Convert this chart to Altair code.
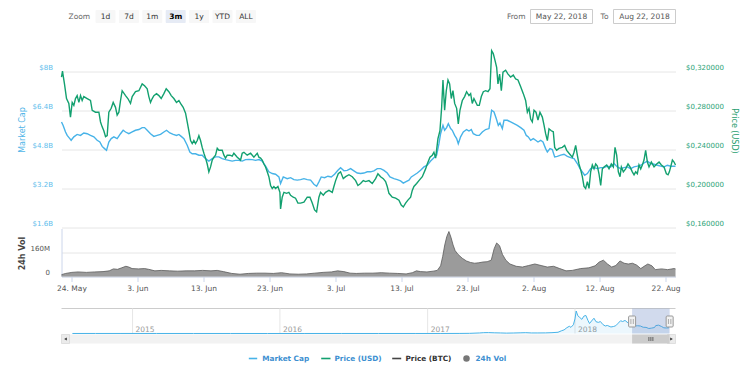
import altair as alt
import pandas as pd

# ------------------------------------------------------------------ data
DATA_START = "2018-05-22T12:00:00Z"   # visible range start (day offset 0)
VIEW_END = "2018-08-23T12:00:00Z"
NAV_START = "2014-07-09T00:00:00Z"
NAV_END = "2018-09-07T00:00:00Z"

# (day offset from DATA_START, price in USD)
PRICE_USD = [
    (0.00, 0.314), (0.15, 0.320), (0.45, 0.307), (0.76, 0.292), (1.11, 0.287), (1.36, 0.273),
    (1.62, 0.288), (1.87, 0.285), (2.12, 0.292), (2.37, 0.295), (2.63, 0.288), (2.88, 0.295),
    (3.13, 0.290), (3.38, 0.294), (3.89, 0.292), (4.39, 0.290), (4.65, 0.280), (5.15, 0.278),
    (5.66, 0.278), (5.91, 0.268), (6.16, 0.263), (6.41, 0.259), (6.67, 0.253), (6.92, 0.254),
    (7.17, 0.278), (7.53, 0.282), (7.83, 0.288), (8.18, 0.283), (8.43, 0.275), (8.69, 0.278),
    (8.94, 0.290), (9.19, 0.300), (9.70, 0.295), (10.05, 0.292), (10.45, 0.287), (10.71, 0.294),
    (11.21, 0.299), (11.72, 0.300), (12.22, 0.307), (12.58, 0.305), (12.98, 0.302), (13.23, 0.294),
    (13.48, 0.288), (13.74, 0.292), (13.99, 0.295), (14.39, 0.297), (14.75, 0.295), (15.10, 0.292),
    (15.51, 0.297), (15.86, 0.302), (16.26, 0.299), (16.62, 0.295), (17.02, 0.292), (17.42, 0.288),
    (17.78, 0.290), (18.03, 0.287), (18.43, 0.283), (18.79, 0.277), (19.04, 0.268), (19.29, 0.259),
    (19.55, 0.249), (19.80, 0.246), (20.05, 0.249), (20.30, 0.246), (20.56, 0.249), (20.81, 0.254),
    (21.06, 0.249), (21.31, 0.242), (21.57, 0.236), (21.82, 0.231), (22.07, 0.225), (22.32, 0.217),
    (22.58, 0.222), (22.83, 0.229), (23.08, 0.232), (23.33, 0.234), (23.59, 0.241), (23.84, 0.239),
    (24.34, 0.239), (24.60, 0.234), (24.85, 0.231), (25.10, 0.234), (25.51, 0.234), (25.86, 0.233),
    (26.11, 0.236), (26.62, 0.232), (27.12, 0.229), (27.37, 0.236), (27.63, 0.237), (28.13, 0.234),
    (28.64, 0.236), (29.14, 0.232), (29.65, 0.236), (29.90, 0.232), (30.15, 0.231), (30.40, 0.229),
    (30.66, 0.225), (30.91, 0.222), (31.16, 0.217), (31.41, 0.212), (31.67, 0.203), (31.92, 0.200),
    (32.17, 0.202), (32.42, 0.200), (32.78, 0.202), (33.08, 0.196), (33.18, 0.179), (33.43, 0.191),
    (33.69, 0.196), (34.09, 0.195), (34.44, 0.196), (34.70, 0.193), (35.10, 0.191), (35.45, 0.190),
    (35.81, 0.185), (36.21, 0.185), (36.72, 0.186), (37.22, 0.191), (37.63, 0.191), (37.98, 0.185),
    (38.33, 0.178), (38.64, 0.176), (38.99, 0.191), (39.24, 0.196), (39.65, 0.193), (40.00, 0.196),
    (40.51, 0.198), (41.01, 0.196), (41.26, 0.202), (41.52, 0.208), (41.92, 0.215), (42.27, 0.217),
    (42.68, 0.210), (43.03, 0.212), (43.54, 0.214), (44.04, 0.212), (44.55, 0.208), (44.90, 0.203),
    (45.30, 0.205), (45.71, 0.208), (46.06, 0.207), (46.57, 0.208), (47.07, 0.205), (47.58, 0.210),
    (47.93, 0.215), (48.33, 0.212), (48.74, 0.210), (49.09, 0.207), (49.34, 0.202), (49.60, 0.195),
    (50.10, 0.191), (50.61, 0.190), (51.11, 0.188), (51.46, 0.183), (51.77, 0.181), (52.12, 0.185),
    (52.47, 0.188), (52.88, 0.191), (53.13, 0.198), (53.38, 0.202), (53.79, 0.205), (54.14, 0.208),
    (54.65, 0.212), (55.15, 0.220), (55.40, 0.225), (55.81, 0.232), (56.16, 0.234), (56.41, 0.237),
    (56.67, 0.231), (57.02, 0.251), (57.32, 0.259), (57.58, 0.283), (57.78, 0.311), (58.03, 0.280),
    (58.28, 0.300), (58.54, 0.311), (58.79, 0.307), (59.04, 0.292), (59.29, 0.300), (59.55, 0.287),
    (59.85, 0.282), (60.10, 0.266), (60.35, 0.280), (60.71, 0.290), (61.06, 0.294), (61.36, 0.299),
    (61.72, 0.295), (61.97, 0.297), (62.22, 0.287), (62.47, 0.292), (62.98, 0.285), (63.28, 0.285),
    (63.59, 0.294), (63.89, 0.299), (64.24, 0.300), (64.60, 0.299), (64.90, 0.302), (65.15, 0.341),
    (65.40, 0.338), (65.66, 0.331), (65.91, 0.324), (66.11, 0.307), (66.36, 0.317), (66.62, 0.300),
    (66.87, 0.319), (67.27, 0.321), (67.63, 0.317), (68.03, 0.314), (68.43, 0.316), (68.79, 0.312),
    (69.14, 0.311), (69.55, 0.304), (69.95, 0.297), (70.30, 0.290), (70.56, 0.278), (70.81, 0.282),
    (71.06, 0.271), (71.31, 0.268), (71.57, 0.280), (71.87, 0.278), (72.17, 0.270), (72.47, 0.278),
    (72.83, 0.273), (73.08, 0.265), (73.33, 0.256), (73.59, 0.249), (73.84, 0.261), (74.19, 0.259),
    (74.49, 0.258), (74.70, 0.242), (75.00, 0.239), (75.35, 0.241), (75.86, 0.242), (76.21, 0.244),
    (76.52, 0.239), (76.87, 0.236), (77.37, 0.232), (77.63, 0.237), (77.88, 0.244), (78.13, 0.234),
    (78.38, 0.225), (78.64, 0.219), (78.89, 0.212), (79.14, 0.202), (79.39, 0.200), (79.65, 0.207),
    (79.90, 0.200), (80.15, 0.217), (80.40, 0.224), (80.66, 0.220), (80.91, 0.225), (81.16, 0.223),
    (81.41, 0.215), (81.67, 0.203), (81.92, 0.220), (82.17, 0.222), (82.58, 0.224), (82.93, 0.220),
    (83.28, 0.225), (83.59, 0.222), (83.84, 0.242), (84.09, 0.234), (84.34, 0.217), (84.60, 0.212),
    (84.80, 0.222), (85.10, 0.217), (85.45, 0.220), (85.81, 0.225), (86.11, 0.222), (86.46, 0.217),
    (86.72, 0.214), (86.97, 0.217), (87.22, 0.215), (87.47, 0.224), (87.73, 0.220), (87.98, 0.224),
    (88.23, 0.229), (88.48, 0.239), (88.74, 0.227), (88.99, 0.222), (89.34, 0.227), (89.75, 0.222),
    (90.15, 0.225), (90.51, 0.227), (90.86, 0.224), (91.26, 0.222), (91.62, 0.215), (91.87, 0.214),
    (92.07, 0.217), (92.27, 0.222), (92.53, 0.229), (92.78, 0.227), (93.00, 0.224),
]

# (day offset, market cap in billions USD)
MARKET_CAP_BN = [
    (0.00, 5.92), (0.25, 5.78), (0.61, 5.51), (0.86, 5.37), (1.26, 5.24), (1.46, 5.17), (1.87, 5.31),
    (2.37, 5.41), (2.88, 5.37), (3.38, 5.47), (3.89, 5.44), (4.39, 5.37), (4.90, 5.31), (5.40, 5.17),
    (5.81, 5.10), (6.16, 4.92), (6.52, 4.83), (6.82, 4.76), (7.17, 5.10), (7.53, 5.24), (7.93, 5.31),
    (8.43, 5.24), (8.94, 5.44), (9.34, 5.58), (9.70, 5.51), (10.20, 5.44), (10.71, 5.51), (11.21, 5.58),
    (11.72, 5.61), (12.22, 5.69), (12.58, 5.69), (12.98, 5.58), (13.48, 5.44), (13.99, 5.33),
    (14.49, 5.37), (15.00, 5.41), (15.51, 5.51), (15.91, 5.58), (16.41, 5.47), (16.92, 5.41),
    (17.42, 5.37), (17.78, 5.41), (18.13, 5.33), (18.54, 5.24), (19.04, 4.97), (19.44, 4.69),
    (19.80, 4.62), (20.30, 4.62), (20.81, 4.56), (21.31, 4.56), (21.82, 4.42), (22.32, 4.32),
    (22.83, 4.42), (23.33, 4.49), (23.84, 4.49), (24.34, 4.42), (24.85, 4.38), (25.35, 4.35),
    (25.86, 4.32), (26.36, 4.35), (26.87, 4.35), (27.37, 4.32), (27.88, 4.38), (28.38, 4.39),
    (28.89, 4.38), (29.39, 4.35), (29.90, 4.38), (30.40, 4.32), (30.91, 4.11), (31.41, 3.88),
    (31.92, 3.81), (32.42, 3.78), (32.93, 3.67), (33.18, 3.40), (33.59, 3.67), (34.19, 3.60),
    (34.70, 3.64), (35.20, 3.56), (35.71, 3.54), (36.21, 3.56), (36.72, 3.60), (37.22, 3.56),
    (37.73, 3.54), (38.23, 3.37), (38.64, 3.29), (38.99, 3.47), (39.34, 3.67), (39.85, 3.64),
    (40.35, 3.70), (40.86, 3.67), (41.36, 3.78), (41.87, 3.94), (42.27, 4.05), (42.78, 3.92),
    (43.28, 3.94), (43.79, 4.01), (44.29, 3.92), (44.80, 3.83), (45.30, 3.81), (45.81, 3.83),
    (46.31, 3.88), (46.82, 3.88), (47.32, 3.92), (47.83, 4.01), (48.33, 4.01), (48.84, 3.94),
    (49.34, 3.83), (49.75, 3.67), (50.35, 3.60), (50.86, 3.56), (51.36, 3.51), (51.77, 3.42),
    (52.12, 3.47), (52.63, 3.54), (52.98, 3.67), (53.38, 3.74), (53.89, 3.83), (54.39, 3.94),
    (54.90, 4.08), (55.40, 4.15), (55.91, 4.32), (56.41, 4.46), (56.82, 4.56), (57.17, 5.03),
    (57.42, 5.44), (57.78, 5.78), (58.03, 5.58), (58.33, 5.69), (58.59, 5.85), (58.94, 5.65),
    (59.19, 5.58), (59.55, 5.37), (59.85, 5.24), (60.10, 5.03), (60.45, 5.31), (60.86, 5.51),
    (61.36, 5.61), (61.72, 5.55), (62.07, 5.61), (62.37, 5.44), (62.88, 5.37), (63.28, 5.37),
    (63.74, 5.51), (64.24, 5.61), (64.75, 5.65), (65.15, 6.40), (65.51, 6.33), (65.86, 6.05),
    (66.16, 5.78), (66.41, 5.88), (66.77, 5.65), (67.02, 5.99), (67.53, 5.99), (68.03, 5.92),
    (68.54, 5.85), (69.04, 5.78), (69.55, 5.69), (70.05, 5.58), (70.40, 5.37), (70.71, 5.31),
    (71.06, 5.17), (71.46, 5.24), (71.82, 5.17), (72.17, 5.10), (72.58, 5.17), (72.93, 5.10),
    (73.33, 4.83), (73.59, 4.69), (73.99, 4.83), (74.34, 4.79), (74.70, 4.49), (75.10, 4.51),
    (75.61, 4.56), (76.11, 4.60), (76.62, 4.51), (77.12, 4.46), (77.63, 4.42), (78.13, 4.22),
    (78.54, 4.01), (78.89, 3.88), (79.24, 3.74), (79.65, 3.81), (80.15, 4.01), (80.66, 4.05),
    (81.16, 4.01), (81.67, 4.05), (82.17, 4.05), (82.68, 4.11), (83.18, 4.08), (83.69, 4.22),
    (84.19, 4.08), (84.70, 4.01), (85.20, 4.05), (85.71, 4.08), (86.21, 4.01), (86.72, 4.08),
    (87.22, 4.11), (87.73, 4.15), (88.23, 4.24), (88.74, 4.32), (89.24, 4.22), (89.75, 4.19),
    (90.25, 4.15), (90.76, 4.11), (91.26, 4.08), (91.77, 4.15), (92.27, 4.11), (93.00, 4.11),
]

# (day offset, 24h volume in millions USD)
VOLUME_M = [
    (0.00, 12), (0.63, 20), (1.57, 27), (2.52, 30), (3.77, 27), (5.03, 30), (6.29, 32), (7.23, 37),
    (7.86, 50), (8.49, 47), (9.12, 57), (9.75, 67), (10.19, 62), (10.69, 52), (11.64, 50),
    (12.58, 52), (13.21, 47), (14.15, 37), (15.09, 40), (16.35, 37), (17.61, 35), (18.87, 37),
    (20.13, 37), (21.38, 40), (22.64, 37), (23.58, 40), (24.53, 32), (25.79, 20), (27.04, 15),
    (28.30, 20), (29.56, 22), (30.82, 22), (32.08, 20), (33.33, 25), (34.59, 17), (35.85, 15),
    (37.11, 17), (38.36, 22), (39.62, 27), (40.88, 30), (41.82, 37), (42.77, 32), (43.71, 22),
    (44.65, 20), (45.91, 22), (47.17, 22), (48.43, 25), (49.69, 22), (50.94, 20), (52.20, 17),
    (53.14, 25), (53.77, 37), (54.40, 32), (55.35, 30), (56.29, 35), (56.92, 40), (57.42, 70),
    (57.74, 132), (58.05, 207), (58.36, 262), (58.68, 295), (58.99, 257), (59.31, 207), (59.62, 170),
    (60.06, 145), (60.69, 120), (61.32, 102), (61.95, 92), (62.58, 87), (63.21, 90), (63.84, 95),
    (64.47, 97), (65.09, 107), (65.53, 182), (65.91, 220), (66.35, 202), (66.79, 145), (67.30, 107),
    (67.92, 82), (68.87, 67), (69.81, 62), (70.75, 72), (71.70, 82), (72.64, 72), (73.58, 62),
    (74.53, 67), (75.47, 52), (76.42, 37), (77.36, 40), (78.62, 52), (79.87, 57), (80.82, 70),
    (81.45, 95), (82.08, 107), (82.70, 82), (83.33, 62), (83.96, 72), (84.59, 102), (85.22, 87),
    (85.85, 82), (86.48, 87), (87.11, 75), (87.74, 52), (88.36, 70), (88.81, 82), (89.43, 70),
    (89.94, 45), (90.88, 50), (91.82, 45), (92.77, 52), (93.00, 50),
]

# navigator: full market-cap history (date, billions USD)
NAV_MARKET_CAP_BN = [
    ("2014-08-05", 0.02), ("2014-10-01", 0.025), ("2014-12-01", 0.03), ("2015-03-01", 0.02),
    ("2015-06-01", 0.015), ("2015-09-01", 0.012), ("2015-12-01", 0.01), ("2016-03-01", 0.01),
    ("2016-06-01", 0.012), ("2016-09-01", 0.01), ("2016-12-01", 0.012), ("2017-02-01", 0.015),
    ("2017-03-20", 0.05), ("2017-04-15", 0.12), ("2017-05-10", 0.4), ("2017-05-20", 0.6),
    ("2017-06-01", 0.65), ("2017-06-15", 0.5), ("2017-07-01", 0.4), ("2017-07-15", 0.28),
    ("2017-08-01", 0.35), ("2017-08-20", 0.5), ("2017-09-01", 0.6), ("2017-09-15", 0.4),
    ("2017-10-01", 0.4), ("2017-10-20", 0.45), ("2017-11-05", 0.6), ("2017-11-20", 0.9),
    ("2017-11-28", 1.9), ("2017-12-05", 2.6), ("2017-12-12", 4.2), ("2017-12-18", 5.2),
    ("2017-12-22", 4.4), ("2017-12-28", 6.3), ("2018-01-01", 10.5), ("2018-01-04", 16.2),
    ("2018-01-08", 12.8), ("2018-01-13", 11.5), ("2018-01-18", 10.2), ("2018-01-23", 12.5),
    ("2018-01-28", 13.0), ("2018-02-02", 9.5), ("2018-02-06", 7.2), ("2018-02-11", 9.0),
    ("2018-02-17", 11.0), ("2018-02-22", 8.5), ("2018-02-28", 8.0), ("2018-03-05", 8.6),
    ("2018-03-11", 6.5), ("2018-03-17", 5.4), ("2018-03-22", 5.8), ("2018-03-31", 4.7),
    ("2018-04-06", 5.0), ("2018-04-12", 5.6), ("2018-04-18", 7.4), ("2018-04-24", 9.2),
    ("2018-04-29", 8.6), ("2018-05-05", 9.4), ("2018-05-10", 8.2), ("2018-05-16", 7.0),
    ("2018-05-22", 5.9), ("2018-05-29", 5.3), ("2018-06-05", 5.6), ("2018-06-12", 5.4),
    ("2018-06-19", 4.5), ("2018-06-26", 4.4), ("2018-07-03", 3.6), ("2018-07-10", 3.9),
    ("2018-07-17", 4.3), ("2018-07-20", 5.7), ("2018-07-27", 6.0), ("2018-08-03", 5.1),
    ("2018-08-09", 4.1), ("2018-08-15", 4.0), ("2018-08-22", 4.1),
]

NAV_YEARS = ["2015", "2016", "2017", "2018"]
X_TICK_DATES = ["2018-05-24", "2018-06-03", "2018-06-13", "2018-06-23", "2018-07-03",
                "2018-07-13", "2018-07-23", "2018-08-02", "2018-08-12", "2018-08-22"]
CAP_TICKS = [1.6, 3.2, 4.8, 6.4, 8]
PRICE_TICKS = [0.16, 0.20, 0.24, 0.28, 0.32]
VOL_TICKS = [0, 160]
ZOOM_BUTTONS = ["1d", "7d", "1m", "3m", "1y", "YTD", "ALL"]
ZOOM_SELECTED = "3m"
RANGE_FROM = "May 22, 2018"
RANGE_TO = "Aug 22, 2018"
LEGEND_ITEMS = ["Market Cap", "Price (USD)", "Price (BTC)", "24h Vol"]

# ------------------------------------------------------------------ styles / layout
FONT = "DejaVu Sans"
BLUE = "#47b3e8"
GREEN = "#12a06f"
BTC_GREY = "#444444"
VOL_GREY = "#717171"
LEGEND_TEXT = ["#3d8fd1", "#3d8fd1", "#333333", "#3d8fd1"]
W, H = 614, 236
MAIN_RANGE = [187, 0]
VOL_RANGE = [236, 188]
NAV_TOP, NAV_BOTTOM = 268, 293
SCROLL_TOP, SCROLL_BOTTOM = 294, 303
LEGEND_Y = 318
LEGEND_LINES = [(187.3, 195.7), (259.7, 269.0), (330.7, 339.7)]
LEGEND_TEXT_X = [200.7, 273.0, 344.0, 414.0]
LEGEND_DOT_X = 405


def to_ms(s):
    return int(pd.Timestamp(s).value // 10**6)


T0 = pd.Timestamp(DATA_START)


def iso_day(d):
    return (T0 + pd.Timedelta(days=d)).strftime("%Y-%m-%dT%H:%M:%SZ")


def iso_date(s):
    return pd.Timestamp(s).strftime("%Y-%m-%dT%H:%M:%SZ")


price_df = pd.DataFrame({"t": [iso_day(d) for d, _ in PRICE_USD], "price": [v for _, v in PRICE_USD]})
cap_df = pd.DataFrame({"t": [iso_day(d) for d, _ in MARKET_CAP_BN], "cap": [v for _, v in MARKET_CAP_BN]})
vol_df = pd.DataFrame({"t": [iso_day(d) for d, _ in VOLUME_M], "vol": [v for _, v in VOLUME_M]})
nav_df = pd.DataFrame({"t": [iso_date(d) for d, _ in NAV_MARKET_CAP_BN], "cap": [v for _, v in NAV_MARKET_CAP_BN]})
year_df = pd.DataFrame({"t": [iso_date(y + "-01-01") for y in NAV_YEARS], "label": NAV_YEARS})
sel_df = pd.DataFrame({"start": [DATA_START], "end": [VIEW_END]})
edge_df = pd.DataFrame({"edge": [DATA_START, VIEW_END]})
mid_df = pd.DataFrame({"mid": [(T0 + (pd.Timestamp(VIEW_END) - T0) / 2).strftime("%Y-%m-%dT%H:%M:%SZ")]})
one = pd.DataFrame({"a": [0]})

main_x = alt.Scale(type="utc", domain=[to_ms(DATA_START), to_ms(VIEW_END)])
nav_x = alt.Scale(type="utc", domain=[to_ms(NAV_START), to_ms(NAV_END)])

layers = []

# ---- main panel: market cap + price
cap_axis = alt.Axis(
    orient="left", values=CAP_TICKS, labelExpr="'$' + datum.value + 'B'",
    grid=True, gridColor="#e6e6e6", gridWidth=1, domain=False, ticks=False,
    labelPadding=9, labelOffset=-4, labelColor="#5dbdec", labelFontSize=7,
    title="Market Cap", titleColor="#4fb5e8", titleFontSize=8, titleFontWeight="normal",
    titleAngle=270, titleAlign="center", titleBaseline="middle", titleX=-39.5, titleY=89)
layers.append(
    alt.Chart(cap_df).mark_line(color=BLUE, strokeWidth=1.4).encode(
        x=alt.X("t:T", scale=main_x, axis=None),
        y=alt.Y("cap:Q", scale=alt.Scale(domain=[1.6, 9.256], range=MAIN_RANGE, nice=False, zero=False),
                axis=cap_axis)))

price_axis = alt.Axis(
    orient="right", values=PRICE_TICKS,
    labelExpr="'$' + replace(format(datum.value, '.6f'), '.', ',')",
    grid=False, domain=False, ticks=False, labelPadding=10, labelOffset=-4,
    labelColor="#2ba377", labelFontSize=7,
    title="Price (USD)", titleColor="#1e9d6e", titleFontSize=8, titleFontWeight="normal",
    titleAngle=90, titleAlign="center", titleBaseline="middle", titleX=57.5, titleY=90)
layers.append(
    alt.Chart(price_df).mark_line(color=GREEN, strokeWidth=1.4).encode(
        x=alt.X("t:T", scale=main_x, axis=None),
        y=alt.Y("price:Q", scale=alt.Scale(domain=[0.16, 0.3514], range=MAIN_RANGE, nice=False, zero=False),
                axis=price_axis)))

# ---- volume panel
x_axis = alt.Axis(
    orient="bottom", values=[to_ms(d) for d in X_TICK_DATES],
    labelExpr="utcFormat(datum.value, '%-d. %b')",
    grid=False, domainColor="#ccd6eb", tickColor="#ccd6eb", tickSize=5, labelColor="#555555",
    labelFontSize=7.5, labelPadding=3, labelFlush=False, labelOverlap=False, title=None)
vol_axis = alt.Axis(
    orient="left", values=VOL_TICKS, labelExpr="datum.value == 0 ? '0' : datum.value + 'M'",
    grid=True, gridColor="#e6e6e6", domain=True, domainColor="#ccd6eb", ticks=False,
    labelPadding=12, labelOffset=-4, labelColor="#555555", labelFontSize=7,
    title="24h Vol", titleColor="#444444", titleFontSize=8, titleFontWeight="bold",
    titleAngle=270, titleAlign="center", titleBaseline="middle", titleX=-39.5, titleY=212.5)
layers.append(
    alt.Chart(vol_df).mark_area(fill=VOL_GREY, line={"color": "#5a5a5a", "strokeWidth": 0.8}).encode(
        x=alt.X("t:T", scale=main_x, axis=x_axis),
        y=alt.Y("vol:Q", scale=alt.Scale(domain=[0, 314.8], range=VOL_RANGE, nice=False), axis=vol_axis)))

# ---- navigator
layers.append(alt.Chart(one).mark_rule(color="#cccccc").encode(
    x=alt.value(0), x2=alt.value(W), y=alt.value(NAV_TOP)))
layers.append(alt.Chart(year_df).mark_rule(color="#e6e6e6").encode(
    x=alt.X("t:T", scale=nav_x, axis=None), y=alt.value(NAV_TOP), y2=alt.value(NAV_BOTTOM)))
layers.append(alt.Chart(year_df).mark_text(align="left", dx=3, baseline="alphabetic",
                                           color="#999999", fontSize=7.5).encode(
    x=alt.X("t:T", scale=nav_x, axis=None), y=alt.value(NAV_BOTTOM - 2), text="label:N"))
layers.append(alt.Chart(nav_df).mark_area(fill=BLUE, fillOpacity=0.1,
                                          line={"color": BLUE, "strokeWidth": 1}).encode(
    x=alt.X("t:T", scale=nav_x, axis=None),
    y=alt.Y("cap:Q", scale=alt.Scale(domain=[0, 18], range=[NAV_BOTTOM, NAV_TOP], nice=False), axis=None)))
layers.append(alt.Chart(sel_df).mark_rect(fill="#6685c2", fillOpacity=0.3).encode(
    x=alt.X("start:T", scale=nav_x, axis=None), x2="end:T",
    y=alt.value(NAV_TOP), y2=alt.value(NAV_BOTTOM)))
layers.append(alt.Chart(edge_df).mark_rect(fill="#f2f2f2", stroke="#999999", strokeWidth=1,
                                           xOffset=-3.5, x2Offset=3.5, cornerRadius=1).encode(
    x=alt.X("edge:T", scale=nav_x, axis=None), x2="edge:T",
    y=alt.value(NAV_TOP + 7.5), y2=alt.value(NAV_TOP + 18.5)))
for off in (-1.2, 1.2):
    layers.append(alt.Chart(edge_df).mark_rule(color="#999999", strokeWidth=0.8, xOffset=off).encode(
        x=alt.X("edge:T", scale=nav_x, axis=None),
        y=alt.value(NAV_TOP + 10.5), y2=alt.value(NAV_TOP + 15.5)))

# ---- scrollbar
layers.append(alt.Chart(one).mark_rect(fill="#f2f2f2").encode(
    x=alt.value(0), x2=alt.value(W), y=alt.value(SCROLL_TOP), y2=alt.value(SCROLL_BOTTOM)))
for x0, x1 in ((0, 8), (W - 8, W)):
    layers.append(alt.Chart(one).mark_rect(fill="#ebebeb", stroke="#cccccc", strokeWidth=0.5).encode(
        x=alt.value(x0), x2=alt.value(x1), y=alt.value(SCROLL_TOP), y2=alt.value(SCROLL_BOTTOM)))
for xc, shape in ((4, "triangle-left"), (W - 4, "triangle-right")):
    layers.append(alt.Chart(one).mark_point(shape=shape, filled=True, color="#333333",
                                            size=9, opacity=1).encode(
        x=alt.value(xc), y=alt.value((SCROLL_TOP + SCROLL_BOTTOM) / 2)))
layers.append(alt.Chart(sel_df).mark_rect(fill="#cccccc").encode(
    x=alt.X("start:T", scale=nav_x, axis=None), x2="end:T",
    y=alt.value(SCROLL_TOP), y2=alt.value(SCROLL_BOTTOM)))
for off in (-2, 0, 2):
    layers.append(alt.Chart(mid_df).mark_rule(color="#333333", strokeWidth=0.7, xOffset=off).encode(
        x=alt.X("mid:T", scale=nav_x, axis=None),
        y=alt.value(SCROLL_TOP + 2.5), y2=alt.value(SCROLL_BOTTOM - 2.5)))

# ---- range selector toolbar
btn_df = pd.DataFrame({"label": ZOOM_BUTTONS})
btn_scale = alt.Scale(type="band", domain=ZOOM_BUTTONS, range=[34, 194.4], paddingInner=0.145, paddingOuter=0)
layers.append(alt.Chart(one).mark_text(align="left", baseline="middle", color="#666666",
                                       fontSize=7.5, text="Zoom").encode(
    x=alt.value(7), y=alt.value(-24)))
layers.append(alt.Chart(btn_df).mark_rect(cornerRadius=1).encode(
    x=alt.X("label:N", scale=btn_scale, axis=None),
    y=alt.value(-30.5), y2=alt.value(-17.5),
    color=alt.condition(alt.datum.label == ZOOM_SELECTED, alt.value("#e6ebf5"), alt.value("#f7f7f7"))))
layers.append(alt.Chart(btn_df).transform_filter(alt.datum.label != ZOOM_SELECTED).mark_text(
    baseline="middle", color="#333333", fontSize=7.5).encode(
    x=alt.X("label:N", scale=btn_scale, axis=None), y=alt.value(-24), text="label:N"))
layers.append(alt.Chart(btn_df).transform_filter(alt.datum.label == ZOOM_SELECTED).mark_text(
    baseline="middle", color="#000000", fontSize=7.5, fontWeight="bold").encode(
    x=alt.X("label:N", scale=btn_scale, axis=None), y=alt.value(-24), text="label:N"))

for caption, value, cap_x, box0, box1 in (("From", RANGE_FROM, 464, 469, 531),
                                          ("To", RANGE_TO, 547, 552, 614)):
    layers.append(alt.Chart(one).mark_text(align="right", baseline="middle", color="#666666",
                                           fontSize=7.5, text=caption).encode(
        x=alt.value(cap_x), y=alt.value(-24)))
    layers.append(alt.Chart(one).mark_rect(fill="#ffffff", stroke="#cccccc", strokeWidth=1).encode(
        x=alt.value(box0), x2=alt.value(box1), y=alt.value(-31), y2=alt.value(-17)))
    layers.append(alt.Chart(one).mark_text(align="center", baseline="middle", color="#555555",
                                           fontSize=7.5, text=value).encode(
        x=alt.value((box0 + box1) / 2), y=alt.value(-24)))

# ---- legend
leg_line_df = pd.DataFrame({"x0": [a for a, _ in LEGEND_LINES], "x1": [b for _, b in LEGEND_LINES],
                            "c": [BLUE, GREEN, BTC_GREY]})
layers.append(alt.Chart(leg_line_df).mark_rule(strokeWidth=1.6).encode(
    x=alt.X("x0:Q", scale=None), x2="x1:Q", y=alt.value(LEGEND_Y),
    color=alt.Color("c:N", scale=None)))
layers.append(alt.Chart(one).mark_circle(size=42, color="#777777", opacity=1).encode(
    x=alt.value(LEGEND_DOT_X), y=alt.value(LEGEND_Y)))
leg_text_df = pd.DataFrame({"label": LEGEND_ITEMS, "x": LEGEND_TEXT_X, "c": LEGEND_TEXT})
layers.append(alt.Chart(leg_text_df).mark_text(align="left", baseline="middle", fontWeight="bold",
                                               fontSize=7.3).encode(
    x=alt.X("x:Q", scale=None), y=alt.value(LEGEND_Y), text="label:N",
    color=alt.Color("c:N", scale=None)))

chart = (
    alt.layer(*layers)
    .resolve_scale(x="independent", y="independent", color="independent")
    .properties(width=W, height=H, padding={"left": 9.5, "top": 0.5, "right": 4, "bottom": 0})
    .configure(font=FONT)
    .configure_view(strokeWidth=0)
)

chart.save("out.html", embed_options={"renderer": "svg", "actions": False})
